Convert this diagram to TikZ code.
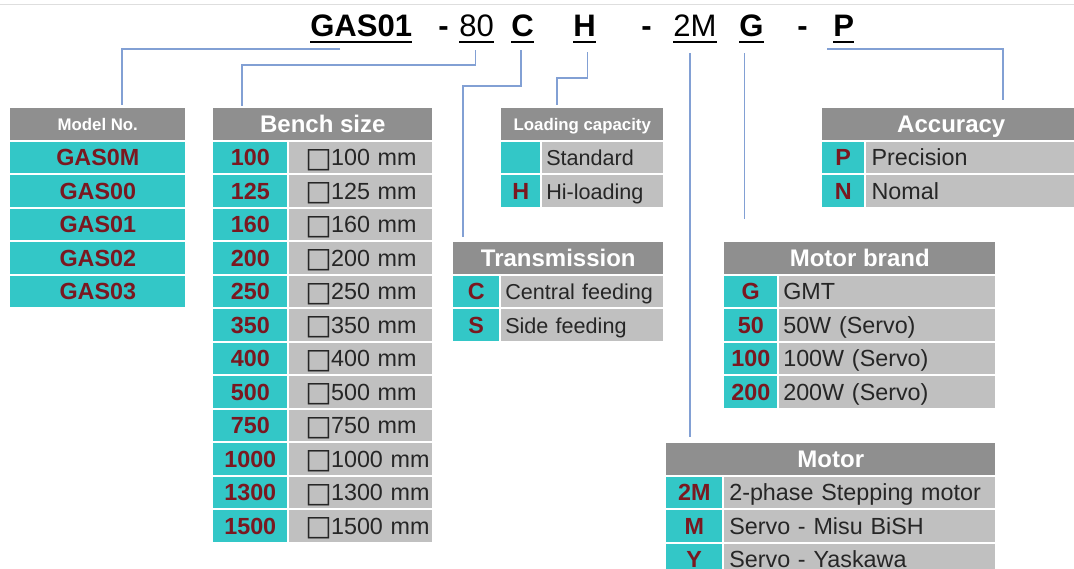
\documentclass[tikz,border=0pt]{standalone}
\usepackage{fontspec}
\setmainfont{Liberation Sans}
\newfontfamily\symfont{DejaVu Sans}
\usetikzlibrary{calc}

\definecolor{hdgray}{RGB}{143,143,143}
\definecolor{cellteal}{RGB}{51,199,199}
\definecolor{cellgray}{RGB}{192,192,192}
\definecolor{codered}{RGB}{122,24,32}
\definecolor{desctext}{RGB}{38,38,38}
\definecolor{linkblue}{RGB}{130,160,212}
\definecolor{edgegray}{RGB}{222,222,222}

\newcommand\sqmark{\raisebox{-1pt}{\symfont\fontsize{21}{20}\selectfont □}\kern-0.5pt}

\tikzset{
  hdcell/.style={fill=hdgray, text=white, font=\bfseries\fontsize{18}{20}\selectfont,
    minimum width=#1*0.75pt, minimum height=23.6pt, inner sep=0pt,
    text height=12.9pt, text depth=0pt, anchor=north west},
  keycell/.style={fill=cellteal, text=codered, font=\bfseries\fontsize{17.5}{20}\selectfont,
    minimum width=#1*0.75pt, minimum height=23.6pt, inner sep=0pt,
    text height=12.5pt, text depth=0pt, anchor=north west},
  valcell/.style 2 args={fill=cellgray, text=desctext, font=\fontsize{17.5}{20}\selectfont,
    text width=#1*0.75pt, align=left, minimum height=23.6pt, inner sep=0pt,
    text height=12.5pt, text depth=0pt, anchor=north west,
    execute at begin node={\hspace*{#2}}},
  codetxt/.style={font=\bfseries\fontsize{23.3}{26}\selectfont, inner sep=0pt, anchor=base west},
  link/.style={draw=linkblue, line width=1.1pt},
  uline/.style={line width=1.5pt},
}

\begin{document}
\begin{tikzpicture}[x=0.75pt, y=-0.75pt]
  \useasboundingbox (0,0) rectangle (1074,568);
  \clip (0,0) rectangle (1074,568);
  \draw[edgegray, line width=0.75pt] (0,4) -- (1074,4);

  % type code
  \node[codetxt] (cModel) at (310,36) {GAS01};
  \node[codetxt] (dash1) at (438,36) {-};
  \node[codetxt, font=\fontsize{23.3}{26}\selectfont] (cSize) at (459,36) {80};
  \node[codetxt] (cTrans) at (511,36) {C};
  \node[codetxt] (cLoad) at (573,36) {H};
  \node[codetxt] (dash2) at (641,36) {-};
  \node[codetxt, font=\fontsize{23.3}{26}\selectfont] (cMotor) at (673,36) {2M};
  \node[codetxt] (cBrand) at (739,36) {G};
  \node[codetxt] (dash3) at (797,36) {-};
  \node[codetxt] (cAcc) at (833,36) {P};
  \foreach \c in {cModel,cSize,cTrans,cLoad,cMotor,cBrand,cAcc}
    \draw[uline] ([yshift=-4.5pt]\c.base west) -- ([yshift=-4.5pt]\c.base east);

  % model no.
  \node[hdcell=175, font=\bfseries\fontsize{12.6}{14}\selectfont, text height=9pt] (hModel) at (10,108) {Model No.};
  \foreach \t [count=\i] in {GAS0M,GAS00,GAS01,GAS02,GAS03}
    \node[keycell=175] (model-\i) at (10,108+33.5*\i) {\t};

  % bench size
  \node[hdcell=219] (hSize) at (213,108) {Bench size};
  \foreach \n [count=\i] in {100,125,160,200,250,350,400,500,750,1000,1300,1500} {
    \node[keycell=74] (size-\i) at (213,108+33.5*\i) {\n};
    \node[valcell={143}{12pt}] (sizeval-\i) at (289,108+33.5*\i) {\sqmark\n\ mm};
  }

  % loading capacity
  \node[hdcell=162, font=\bfseries\fontsize{12.6}{14}\selectfont, text height=9pt] (hLoad) at (501,108) {Loading capacity};
  \foreach \k/\d [count=\i] in {/Standard,H/Hi-loading} {
    \node[keycell=39] (load-\i) at (501,108+33.5*\i) {\k};
    \node[valcell={121}{3pt}, font=\fontsize{16.2}{18}\selectfont] (loadval-\i) at (542,108+33.5*\i) {\d};
  }

  % transmission
  \node[hdcell=210] (hTrans) at (453,242) {Transmission};
  \foreach \k/\d [count=\i] in {C/Central feeding,S/Side feeding} {
    \node[keycell=46] (trans-\i) at (453,242+33.5*\i) {\k};
    \node[valcell={162}{3pt}, font=\fontsize{16.2}{18}\selectfont] (transval-\i) at (501,242+33.5*\i) {\d};
  }

  % accuracy
  \node[hdcell=258] (hAcc) at (822,108) {Accuracy};
  \foreach \k/\d [count=\i] in {P/Precision,N/Nomal} {
    \node[keycell=42] (acc-\i) at (822,108+33.5*\i) {\k};
    \node[valcell={214}{4pt}] (accval-\i) at (866,108+33.5*\i) {\d};
  }

  % motor brand
  \node[hdcell=271] (hBrand) at (724,242) {Motor brand};
  \foreach \k/\d [count=\i] in {G/GMT,50/50W (Servo),100/100W (Servo),200/200W (Servo)} {
    \node[keycell=53] (brand-\i) at (724,242+33.5*\i) {\k};
    \node[valcell={216}{3pt}] (brandval-\i) at (779,242+33.5*\i) {\d};
  }

  % motor
  \node[hdcell=329] (hMotor) at (666,443) {Motor};
  \foreach \k/\d [count=\i] in {2M/2-phase Stepping motor,M/Servo - Misu BiSH,Y/Servo - Yaskawa} {
    \node[keycell=56] (motor-\i) at (666,443+33.5*\i) {\k};
    \node[valcell={271}{3.75pt}] (motorval-\i) at (724,443+33.5*\i) {\d};
  }

  % connectors
  \draw[link, shorten >=2pt] ($(cModel.base west)+(30,13)$) -| ($(hModel.north west)+(112,0)$);
  \draw[link, shorten >=1.5pt] ($(cSize.base)+(-1,14)$) -- ++(0,15) -| ($(hSize.north west)+(29,0)$);
  \draw[link, shorten >=3.75pt] ($(cTrans.base)+(-1.5,14)$) -- ++(0,36) -| ($(hTrans.north west)+(10,0)$);
  \draw[link, shorten >=2pt] ($(cLoad.base)+(3,16)$) -- ++(0,26) -| ($(hLoad.north west)+(56,0)$);
  \draw[link, shorten >=4.5pt] ($(cMotor.base)+(-5,17)$) coordinate (tMotor) -- (tMotor |- hMotor.north);
  \draw[link, shorten >=17pt] ($(cBrand.base)+(-7,17)$) coordinate (tBrand) -- (tBrand |- hBrand.north);
  \draw[link, shorten >=6pt] ($(cAcc.base west)+(-6,13)$) -| ($(hAcc.north west)+(181,0)$);
\end{tikzpicture}
\end{document}
